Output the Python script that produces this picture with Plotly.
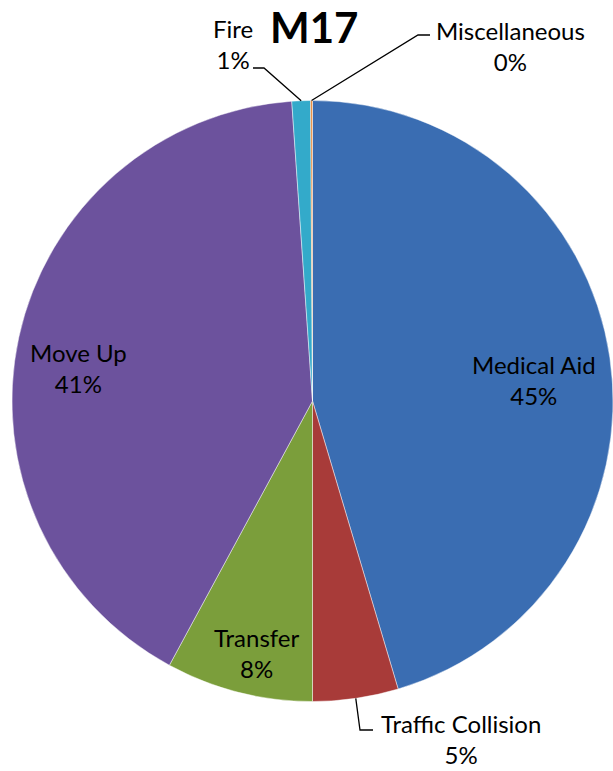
import math
import plotly.graph_objects as go

# ---- data ----
categories = ["Medical Aid", "Traffic Collision", "Transfer", "Move Up", "Fire", "Miscellaneous"]
values = [45.4, 4.6, 7.9, 41.0, 1.0, 0.1]
title_text = "M17"

# ---- styles / layout ----
colors = ["#3A6DB2", "#A83B39", "#7B9E3B", "#6C529D", "#33AACA", "#E8893A"]
W, H = 613, 771
cx, cy, R = 312.5, 401.0, 300.5
FONT = "Lato, Carlito, Calibri, 'Open Sans', sans-serif"

# label centres (pixels) and leader elbows for outside labels
label_pos = {
    "Medical Aid": (534, 380),
    "Traffic Collision": (461, 739),
    "Transfer": (256, 653),
    "Move Up": (78, 368),
    "Fire": (233, 44),
    "Miscellaneous": (510, 46),
}
leaders = {
    "Traffic Collision": [(360, 730), (373, 730)],
    "Fire": [(264, 68), (253, 68)],
    "Miscellaneous": [(418, 35), (430, 35)],
}

def px(x, y):
    return x / W, 1 - y / H

fig = go.Figure(go.Pie(
    labels=categories, values=values, sort=False, direction="clockwise",
    rotation=0, textinfo="none", hoverinfo="label+percent",
    marker=dict(colors=colors, line=dict(color="rgba(255,255,255,0.45)", width=1)),
    domain=dict(x=[(cx - R) / W, min(1, (cx + R) / W)],
                y=[1 - (cy + R) / H, 1 - (cy - R) / H]),
    showlegend=False,
))

total = sum(values)
cum = 0.0
annotations = []
shapes = []
for name, v in zip(categories, values):
    mid = (cum + v / 2) / total * 2 * math.pi
    cum += v
    pct = round(v / total * 100)
    lx, ly = label_pos[name]
    ax, ay = px(lx, ly)
    annotations.append(dict(
        x=ax, y=ay, xref="paper", yref="paper", showarrow=False,
        text=f"{name}<br>{pct}%", xanchor="center", yanchor="middle",
        font=dict(family=FONT, size=24, color="black"), align="center",
    ))
    if name in leaders:
        sx = cx + R * math.sin(mid)
        sy = cy - R * math.cos(mid)
        pts = [(sx, sy)] + leaders[name]
        path = "M " + " L ".join(f"{px(x, y)[0]},{px(x, y)[1]}" for x, y in pts)
        shapes.append(dict(type="path", path=path, xref="paper", yref="paper",
                           line=dict(color="black", width=1.3)))

tx, ty = px(314, 27)
annotations.append(dict(
    x=tx, y=ty, xref="paper", yref="paper", showarrow=False,
    text=f"<b>{title_text}</b>", xanchor="center", yanchor="middle",
    font=dict(family=FONT, size=42, color="black"),
))

fig.update_layout(
    width=W, height=H, margin=dict(l=0, r=0, t=0, b=0),
    paper_bgcolor="white", plot_bgcolor="white",
    annotations=annotations, shapes=shapes,
)
fig.write_html(
    "out.html",
    config={"displayModeBar": False},
    post_script="document.body.style.margin='0';document.body.style.overflow='hidden';",
)
